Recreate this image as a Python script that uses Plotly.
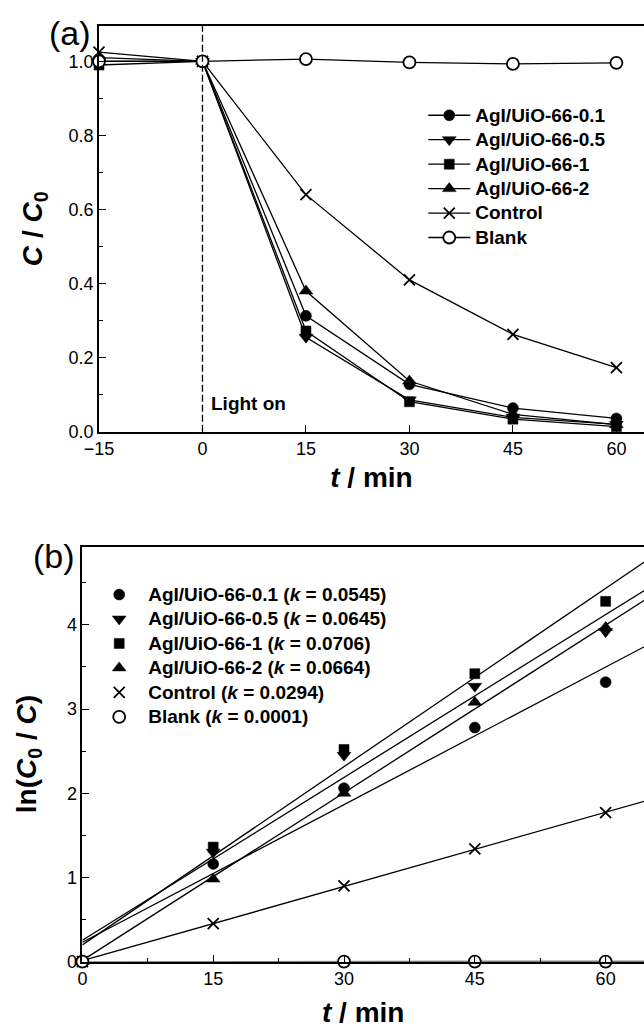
import numpy as np
import plotly.graph_objects as go

# ---------------- data ----------------
t_a = [-15, 0, 15, 30, 45, 60]
names = ["AgI/UiO-66-0.1", "AgI/UiO-66-0.5", "AgI/UiO-66-1", "AgI/UiO-66-2", "Control", "Blank"]
c_01 = [1.00, 1.00, 0.313, 0.128, 0.064, 0.036]
c_05 = [1.00, 1.00, 0.255, 0.086, 0.039, 0.020]
c_1 = [0.99, 1.00, 0.272, 0.081, 0.034, 0.014]
c_2 = [1.01, 1.00, 0.380, 0.137, 0.047, 0.019]
c_ctrl = [1.025, 1.00, 0.640, 0.410, 0.263, 0.173]
c_blank = [1.00, 1.00, 1.006, 0.997, 0.993, 0.996]

t_b = [0, 15, 30, 45, 60]
ln_01 = [0, 1.16, 2.06, 2.78, 3.32]
ln_05 = [0, 1.30, 2.45, 3.27, 3.92]
ln_1 = [0, 1.36, 2.52, 3.42, 4.28]
ln_2 = [0, 0.98, 2.00, 3.08, 3.97]
ln_ctrl = [0, 0.45, 0.90, 1.34, 1.77]
ln_blank = [0, None, 0, 0, 0]
k_vals = [0.0545, 0.0645, 0.0706, 0.0664, 0.0294, 0.0001]
k_labels = ["0.0545", "0.0645", "0.0706", "0.0664", "0.0294", "0.0001"]

x_ticks_a = [-15, 0, 15, 30, 45, 60]
x_ticks_b = [0, 15, 30, 45, 60]

# ---------------- styling ----------------
FONT = "Liberation Sans, Arial, sans-serif"
symbols = ["circle", "triangle-down", "square", "triangle-up", "x-thin", "circle"]
fills = ["black", "black", "black", "black", "black", "white"]
sizes = [11, 12, 10, 12, 11, 12]
LEG_TXT = '<span style="font-size:19px"><b>%s</b></span>'

W, H = 644, 1028
def px_x(p):
    return p / W
def px_y(p):
    return 1 - p / H

fig = go.Figure()

series_a = [c_01, c_05, c_1, c_2, c_ctrl, c_blank]
for i, (nm, ys) in enumerate(zip(names, series_a)):
    fig.add_trace(go.Scatter(
        x=t_a, y=ys, mode="lines+markers", name=LEG_TXT % nm,
        line=dict(color="black", width=1.3),
        marker=dict(symbol=symbols[i], size=sizes[i], color=fills[i],
                    line=dict(color="black", width=1.8 if i >= 4 else 0.5)),
        cliponaxis=False, xaxis="x", yaxis="y", legend="legend",
    ))

series_b = [ln_01, ln_05, ln_1, ln_2, ln_ctrl, ln_blank]
x_fit = np.array([0, 70])
for i, (nm, ys) in enumerate(zip(names, series_b)):
    yv = np.array([np.nan if v is None else v for v in ys], dtype=float)
    xv = np.array(t_b, dtype=float)
    mask = ~np.isnan(yv)
    b0 = yv[mask].mean() - k_vals[i] * xv[mask].mean()
    fig.add_trace(go.Scatter(
        x=x_fit, y=b0 + k_vals[i] * x_fit, mode="lines",
        line=dict(color="black", width=1.3), showlegend=False,
        xaxis="x2", yaxis="y2", hoverinfo="skip",
    ))
for i, (nm, ys) in enumerate(zip(names, series_b)):
    fig.add_trace(go.Scatter(
        x=t_b, y=ys, mode="markers",
        name=LEG_TXT % ("%s (<i>k</i> = %s)" % (nm, k_labels[i])),
        marker=dict(symbol=symbols[i], size=sizes[i], color=fills[i],
                    line=dict(color="black", width=1.8 if i >= 4 else 0.5)),
        cliponaxis=False, xaxis="x2", yaxis="y2", legend="legend2",
    ))

axis_common = dict(
    showline=True, linecolor="black", linewidth=1.6,
    ticks="inside", ticklen=7, tickwidth=1.4, tickcolor="black",
    showgrid=False, zeroline=False,
    tickfont=dict(family=FONT, size=18, color="black"),
)

fig.update_layout(
    width=W, height=H,
    margin=dict(l=0, r=0, t=0, b=0),
    paper_bgcolor="white", plot_bgcolor="white",
    font=dict(family=FONT, color="black"),
    xaxis=dict(domain=[px_x(86), 1], range=[-15, 64], tickvals=x_ticks_a,
               mirror=True, anchor="y",
               title=dict(text="<b><i>t</i> / min</b>", font=dict(size=28), standoff=9),
               **axis_common),
    yaxis=dict(domain=[px_y(436), px_y(26)], range=[0, 1.096], dtick=0.2, tick0=0,
               tickformat=".1f", anchor="x",
               minor=dict(dtick=0.1, ticks="inside", ticklen=4, tickcolor="black"),
               title=dict(text="<b><i>C</i> / <i>C</i><sub>0</sub></b>", font=dict(size=28), standoff=18),
               **axis_common),
    xaxis2=dict(domain=[px_x(69), 1], range=[0, 64.4], tickvals=x_ticks_b,
                mirror=True, anchor="y2",
                minor=dict(dtick=7.5, ticks="inside", ticklen=4, tickcolor="black"),
                title=dict(text="<b><i>t</i> / min</b>", font=dict(size=28), standoff=14),
                **axis_common),
    yaxis2=dict(domain=[px_y(971), px_y(552)], range=[0, 4.93], dtick=1, tick0=0,
                anchor="x2",
                minor=dict(dtick=0.5, ticks="inside", ticklen=4, tickcolor="black"),
                title=dict(text="<b>ln(<i>C</i><sub>0</sub> / <i>C</i>)</b>", font=dict(size=28), standoff=22),
                **axis_common),
    legend=dict(x=px_x(418), y=px_y(99), xanchor="left", yanchor="top",
                bgcolor="rgba(0,0,0,0)", font=dict(family=FONT, size=16.5, color="black"),
                itemwidth=42, tracegroupgap=0),
    legend2=dict(x=px_x(77), y=px_y(583), xanchor="left", yanchor="top",
                 bgcolor="rgba(0,0,0,0)", font=dict(family=FONT, size=16.5, color="black"),
                 itemwidth=48, tracegroupgap=0),
    showlegend=True,
)

fig.add_shape(type="line", xref="x", yref="y domain", x0=0, x1=0, y0=0, y1=1,
              line=dict(color="black", width=1.3, dash="7px,3px"))
fig.add_annotation(x=0, y=0.075, xref="x", yref="y", text="<b>Light on</b>",
                   showarrow=False, xanchor="left", yanchor="middle", xshift=7,
                   font=dict(family=FONT, size=19, color="black"))
fig.add_annotation(x=px_x(56), y=px_y(33), xref="paper", yref="paper", text="(a)",
                   showarrow=False, xanchor="center", yanchor="middle",
                   font=dict(family=FONT, size=34, color="black"))
fig.add_annotation(x=px_x(40), y=px_y(561), xref="paper", yref="paper", text="(b)",
                   showarrow=False, xanchor="center", yanchor="middle",
                   font=dict(family=FONT, size=34, color="black"))

fig.write_html("out.html")
